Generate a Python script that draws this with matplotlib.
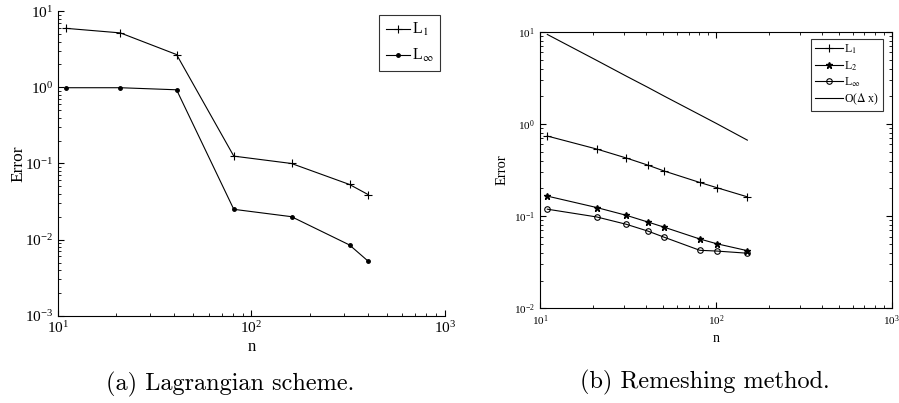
import matplotlib
matplotlib.use("Agg")
import matplotlib.pyplot as plt

plt.rcParams['font.family'] = ['Liberation Serif', 'DejaVu Serif']
plt.rcParams['mathtext.fontset'] = 'stix'

# (a) Lagrangian scheme
n_lag = [11, 21, 41, 81, 161, 321, 401]
lag_L1 = [5.97, 5.2, 2.7, 0.125, 0.1, 0.053, 0.039]
lag_Linf = [0.99, 0.99, 0.93, 0.025, 0.020, 0.0085, 0.0052]

# (b) Remeshing method
n_rem = [11, 21, 31, 41, 51, 81, 101, 151]
rem_L1 = [0.74, 0.535, 0.427, 0.358, 0.308, 0.232, 0.204, 0.162]
rem_L2 = [0.165, 0.124, 0.102, 0.0864, 0.0757, 0.0565, 0.0502, 0.0422]
rem_Linf = [0.119, 0.098, 0.0815, 0.0689, 0.0589, 0.0426, 0.0418, 0.0396]
rem_Odx = [9.37, 4.9, 3.3, 2.5, 2.0, 1.26, 1.01, 0.668]

fig = plt.figure(figsize=(8.99, 4.03), dpi=100)

# left panel
ax1 = fig.add_axes([0.0645, 0.2166, 0.4305, 0.7554])
ax1.plot(n_lag, lag_L1, 'k-', marker='+', ms=6, mew=0.8, lw=0.8, label=r'L$_1$')
ax1.plot(n_lag, lag_Linf, 'k-', marker='.', ms=5, lw=0.8, label=r'L$_\infty$')
ax1.set_xscale('log')
ax1.set_yscale('log')
ax1.set_xlim(10, 1000)
ax1.set_ylim(1e-3, 10)
ax1.spines['top'].set_visible(False)
ax1.spines['right'].set_visible(False)
ax1.tick_params(which='both', direction='in', labelsize=11, top=False, right=False)
ax1.tick_params(which='major', length=4)
ax1.tick_params(which='minor', length=2)
ax1.set_xlabel('n', fontsize=12, labelpad=2)
ax1.set_ylabel('Error', fontsize=12.5, labelpad=-1)
leg1 = ax1.legend(loc='upper right', bbox_to_anchor=(0.987, 0.988), borderaxespad=0,
                  fontsize=11.5, fancybox=False, edgecolor='k', handlelength=1.5,
                  borderpad=0.4, labelspacing=0.55, handletextpad=0.15)
leg1.get_frame().set_linewidth(0.8)

# right panel
ax2 = fig.add_axes([0.6007, 0.235, 0.3912, 0.686])
ax2.plot(n_rem, rem_L1, 'k-', marker='+', ms=6, mew=0.8, lw=0.8, label=r'L$_1$')
ax2.plot(n_rem, rem_L2, 'k-', marker='*', ms=5, lw=0.8, label=r'L$_2$')
ax2.plot(n_rem, rem_Linf, 'k-', marker='o', ms=4, mfc='none', mew=0.8, lw=0.8, label=r'L$_\infty$')
ax2.plot(n_rem, rem_Odx, 'k-', lw=0.8, label=r'O($\Delta$ x)')
ax2.set_xscale('log')
ax2.set_yscale('log')
ax2.set_xlim(10, 1000)
ax2.set_ylim(1e-2, 10)
ax2.tick_params(which='both', direction='in', labelsize=8, top=True, right=True)
ax2.tick_params(which='major', length=4)
ax2.tick_params(which='minor', length=2)
ax2.set_xlabel('n', fontsize=10, labelpad=3)
ax2.set_ylabel('Error', fontsize=10.5, labelpad=4)
leg2 = ax2.legend(loc='upper right', bbox_to_anchor=(0.975, 0.974), borderaxespad=0,
                  fontsize=8.5, fancybox=False, edgecolor='k', handlelength=2.4,
                  borderpad=0.3, labelspacing=0.25, handletextpad=0.1)
leg2.get_frame().set_linewidth(0.8)

for ax in (ax1, ax2):
    for s in ax.spines.values():
        s.set_linewidth(0.8)

fig.text(0.256, 0.045, '(a) Lagrangian scheme.', family='cmr10', fontsize=17.5,
         ha='center', va='center')
fig.text(0.784, 0.052, '(b) Remeshing method.', family='cmr10', fontsize=17.5,
         ha='center', va='center')

fig.savefig('out.png', dpi=100)
